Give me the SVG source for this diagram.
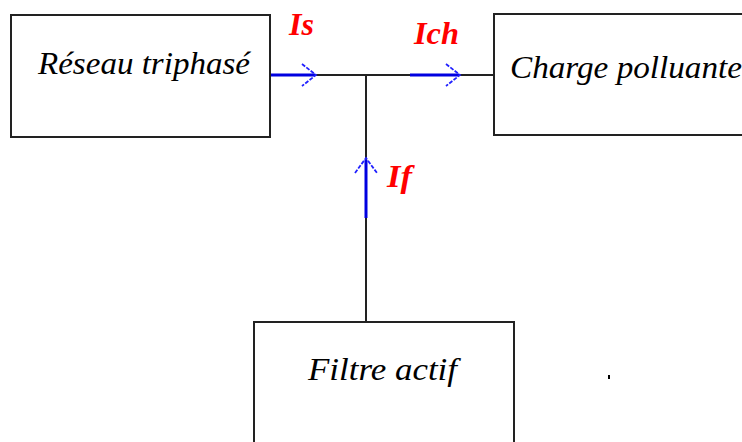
<svg xmlns="http://www.w3.org/2000/svg" width="742" height="442" viewBox="0 0 742 442">
<style>
.box{fill:#fff;stroke:#222;stroke-width:2}
.lbl{font-family:"Liberation Serif","Times New Roman",serif;font-style:italic;font-size:32px;fill:#000}
.cur{font-family:"Liberation Serif","Times New Roman",serif;font-style:italic;font-weight:bold;font-size:31px;fill:#f00}
.wire{stroke:#222;stroke-width:2;fill:none}
.blue{stroke:#0000e0;stroke-width:3;fill:none}
.head{stroke:#2020ff;stroke-width:1.8;fill:none;stroke-dasharray:4 1.5}
</style>
<rect width="742" height="442" fill="#fff"/>
<g id="connectors">
<line class="wire" x1="270" y1="75" x2="497" y2="75"/>
<line class="wire" x1="366" y1="75" x2="366" y2="322"/>
<g id="arrow-is">
<line class="blue" x1="270" y1="75" x2="315" y2="75"/>
<polyline class="head" points="302,64 316,75 302,86"/>
</g>
<g id="arrow-ich">
<line class="blue" x1="410" y1="75" x2="459" y2="75"/>
<polyline class="head" points="446,64 460,75 446,86"/>
</g>
<g id="arrow-if">
<line class="blue" x1="366" y1="218" x2="366" y2="160"/>
<polyline class="head" points="355,173 366,158 377,173"/>
</g>
<text class="cur" x="289" y="35" textLength="25" lengthAdjust="spacingAndGlyphs">Is</text>
<text class="cur" x="414" y="44" textLength="45" lengthAdjust="spacingAndGlyphs">Ich</text>
<text class="cur" x="387" y="187" textLength="25" lengthAdjust="spacingAndGlyphs">If</text>
</g>
<g id="reseau">
<rect class="box" x="11" y="15" width="259" height="122"/>
<text class="lbl" x="38" y="74" textLength="212" lengthAdjust="spacingAndGlyphs">Réseau triphasé</text>
</g>
<g id="charge">
<rect class="box" x="494" y="14" width="260" height="121"/>
<text class="lbl" x="510" y="78" textLength="232" lengthAdjust="spacingAndGlyphs">Charge polluante</text>
</g>
<g id="filtre">
<rect class="box" x="254" y="322" width="260" height="130"/>
<text class="lbl" x="308" y="380" textLength="149" lengthAdjust="spacingAndGlyphs">Filtre actif</text>
</g>
<rect x="608" y="375" width="2" height="4" fill="#000"/>
</svg>
